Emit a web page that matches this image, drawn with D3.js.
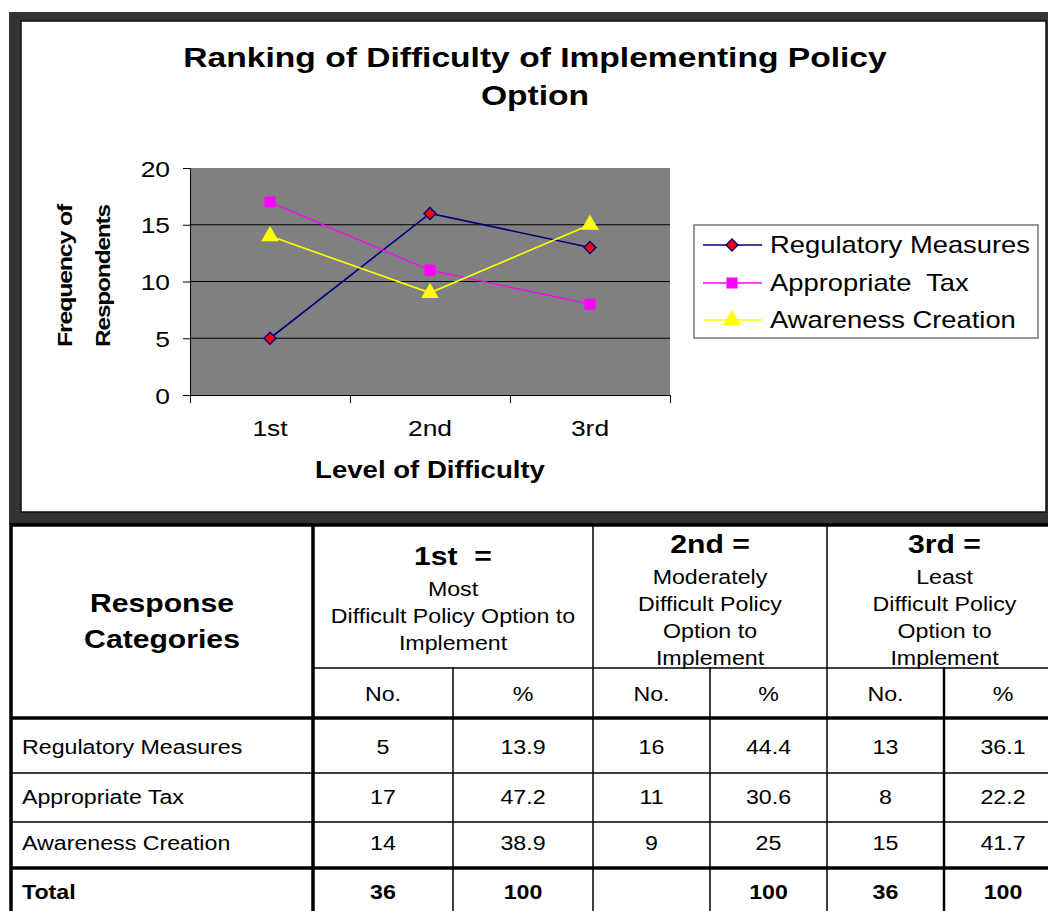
<!DOCTYPE html>
<html>
<head>
<meta charset="utf-8">
<script src="https://cdn.jsdelivr.net/npm/d3@7"></script>
<style>
  body { margin: 0; background: #fff; }
  svg { display: block; font-family: "Liberation Sans", Arial, sans-serif; }
  text { white-space: pre; }
</style>
</head>
<body>
<svg width="1048" height="911"></svg>
<script>
// chart values
const levels = ["1st", "2nd", "3rd"];
const seriesNames = ["Regulatory Measures", "Appropriate  Tax", "Awareness Creation"];
const regulatory = [5, 16, 13];
const tax = [17, 11, 8];
const awareness = [14, 9, 15];
const yTicks = [0, 5, 10, 15, 20];

// table values
const rowNames = ["Regulatory Measures", "Appropriate Tax", "Awareness Creation"];
const regulatoryPct = [13.9, 44.4, 36.1];
const taxPct = [47.2, 30.6, 22.2];
const awarenessPct = [38.9, 25, 41.7];
const totalNo = [36, "", 36];
const totalPct = [100, 100, 100];
const headTitles = ["1st  =", "2nd =", "3rd ="];
const headLines = [
  ["Most", "Difficult Policy Option to", "Implement"],
  ["Moderately", "Difficult Policy", "Option to", "Implement"],
  ["Least", "Difficult Policy", "Option to", "Implement"]
];

const svg = d3.select("svg");

// text with a horizontal stretch about its anchor point
function label(g, str, x, y, size, opts) {
  opts = opts || {};
  return g.append("text")
    .attr("transform", `translate(${x},${y}) scale(${opts.sx || 1},1)`)
    .attr("text-anchor", opts.anchor || "middle")
    .style("font-size", size + "px")
    .style("font-weight", opts.bold ? "bold" : "normal")
    .attr("fill", "#000")
    .text(str);
}

// ---- chart frame ----
svg.append("rect").attr("x", 9).attr("y", 12).attr("width", 1100).attr("height", 512).attr("fill", "#333");
svg.append("rect").attr("x", 21).attr("y", 21).attr("width", 1025).attr("height", 491)
  .attr("fill", "#fff").attr("stroke", "#111").attr("stroke-width", 1.5);

const chart = svg.append("g");
const SX = 1.2;

label(chart, "Ranking of Difficulty of Implementing Policy", 535, 67, 28, {bold: true, sx: SX});
label(chart, "Option", 535, 105, 28, {bold: true, sx: SX});

const plot = {left: 190, right: 670, top: 168, bottom: 395};

const x = d3.scaleBand().domain(levels).range([plot.left, plot.right]).padding(0);
const xEdge = d3.scaleLinear().domain([0, levels.length]).range([plot.left, plot.right]);
const y = d3.scaleLinear().domain([0, 20]).range([plot.bottom, plot.top]);

chart.append("rect")
  .attr("x", plot.left).attr("y", plot.top)
  .attr("width", plot.right - plot.left).attr("height", plot.bottom - plot.top)
  .attr("fill", "#808080");

chart.selectAll(".grid")
  .data(yTicks.filter(d => d > 0 && d < 20))
  .enter().append("line")
  .attr("x1", plot.left).attr("x2", plot.right)
  .attr("y1", d => y(d)).attr("y2", d => y(d))
  .attr("stroke", "#000").attr("stroke-width", 1);

// y axis
const yAxis = chart.append("g")
  .attr("transform", `translate(${plot.left},0)`)
  .call(d3.axisLeft(y).tickValues(yTicks).tickSize(7).tickPadding(0));
yAxis.select(".domain").attr("stroke", "#000");
yAxis.selectAll("text")
  .attr("x", null).attr("dy", null)
  .attr("transform", "translate(-20,8) scale(1.2,1)")
  .style("font-size", "22px").attr("fill", "#000")
  .style("font-family", "'Liberation Sans', Arial, sans-serif");

// x axis: boundary ticks + centred labels
const xTicks = chart.append("g")
  .attr("transform", `translate(0,${plot.bottom})`)
  .call(d3.axisBottom(xEdge).ticks(levels.length).tickSize(8).tickFormat(""));
xTicks.select(".domain").attr("stroke", "#000").attr("d", `M${plot.left - 7},0.5H${plot.right}`);

const xLabels = chart.append("g")
  .attr("transform", `translate(0,${plot.bottom})`)
  .call(d3.axisBottom(x).tickSize(0));
xLabels.select(".domain").remove();
xLabels.selectAll("text")
  .attr("y", null).attr("dy", null)
  .attr("transform", "translate(0,41) scale(1.2,1)")
  .style("font-size", "22px").attr("fill", "#000")
  .style("font-family", "'Liberation Sans', Arial, sans-serif");

label(chart, "Level of Difficulty", 430, 478, 23, {bold: true, sx: SX});

// y title, two rotated lines
[["Frequency of", 72], ["Respondents", 110]].forEach(([t, bx]) => {
  chart.append("text")
    .attr("transform", `translate(${bx},276) rotate(-90)`)
    .attr("text-anchor", "middle")
    .attr("textLength", 142)
    .attr("lengthAdjust", "spacingAndGlyphs")
    .style("font-size", "21px").style("font-weight", "bold")
    .style("letter-spacing", "-1px")
    .text(t);
});

// series
const series = [
  {name: seriesNames[0], values: regulatory, line: "#000080", fill: "#ff0000", stroke: "#000080",
   sym: d3.symbolSquare, size: 72, rot: 45, width: 1.6},
  {name: seriesNames[1], values: tax, line: "#ff00ff", fill: "#ff00ff", stroke: "#ff00ff",
   sym: d3.symbolSquare, size: 95, rot: 0, width: 1.3},
  {name: seriesNames[2], values: awareness, line: "#ffff00", fill: "#ffff00", stroke: "#ffff00",
   sym: d3.symbolTriangle, size: 100, rot: 0, width: 1.6}
];

const line = d3.line()
  .x((d, i) => x(levels[i]) + x.bandwidth() / 2)
  .y(d => y(d));

series.forEach(s => {
  chart.append("path")
    .attr("d", line(s.values))
    .attr("fill", "none")
    .attr("stroke", s.line)
    .attr("stroke-width", s.width);
  chart.selectAll(null)
    .data(s.values)
    .enter().append("path")
    .attr("d", d3.symbol().type(s.sym).size(s.size))
    .attr("transform", (d, i) =>
      `translate(${x(levels[i]) + x.bandwidth() / 2},${y(d)}) rotate(${s.rot})`)
    .attr("fill", s.fill)
    .attr("stroke", s.stroke)
    .attr("stroke-width", 1.4);
});

// legend
const legend = chart.append("g");
legend.append("rect")
  .attr("x", 694).attr("y", 225).attr("width", 344).attr("height", 113)
  .attr("fill", "#fff").attr("stroke", "#555").attr("stroke-width", 1.2);
const legendY = [245, 283, 320];
series.forEach((s, i) => {
  const ly = legendY[i];
  legend.append("line")
    .attr("x1", 703).attr("x2", 762).attr("y1", ly).attr("y2", ly)
    .attr("stroke", s.line).attr("stroke-width", s.width);
  legend.append("path")
    .attr("d", d3.symbol().type(s.sym).size(s.size))
    .attr("transform", `translate(732,${ly}) rotate(${s.rot})`)
    .attr("fill", s.fill).attr("stroke", s.stroke).attr("stroke-width", 1.4);
  label(legend, s.name, 770, ly + 8, 23, {anchor: "start", sx: 1.19});
});

// ---- table ----
const table = svg.append("g");
const colX = [11, 313, 453, 593, 710, 827, 944, 1062];
const rowY = [525, 668, 718, 773, 822, 868, 916];
const TS = 1.16;

table.append("rect").attr("x", 11).attr("y", 524).attr("width", 1060).attr("height", 400).attr("fill", "#fff");

const hLines = [
  {y: rowY[0], x1: colX[0], w: 3.5},
  {y: rowY[1], x1: colX[1], w: 1.5},
  {y: rowY[2], x1: colX[0], w: 3.5},
  {y: rowY[3], x1: colX[0], w: 1.5},
  {y: rowY[4], x1: colX[0], w: 1.5},
  {y: rowY[5], x1: colX[0], w: 3.5}
];
table.selectAll(".h").data(hLines).enter().append("line")
  .attr("x1", d => d.x1 - 1).attr("x2", 1070)
  .attr("y1", d => d.y).attr("y2", d => d.y)
  .attr("stroke", "#000").attr("stroke-width", d => d.w);

const vLines = [
  {x: colX[0], y1: rowY[0], w: 3.5},
  {x: colX[1], y1: rowY[0], w: 3.5},
  {x: colX[2], y1: rowY[1], w: 1.5},
  {x: colX[3], y1: rowY[0], w: 1.5},
  {x: colX[4], y1: rowY[1], w: 1.5},
  {x: colX[5], y1: rowY[0], w: 1.5},
  {x: colX[6], y1: rowY[1], w: 2.5}
];
table.selectAll(".v").data(vLines).enter().append("line")
  .attr("x1", d => d.x).attr("x2", d => d.x)
  .attr("y1", d => d.y1 - 1).attr("y2", 920)
  .attr("stroke", "#000").attr("stroke-width", d => d.w);

// header
const firstMid = (colX[0] + colX[1]) / 2;
label(table, "Response", firstMid, 612, 26, {bold: true, sx: TS});
label(table, "Categories", firstMid, 648, 26, {bold: true, sx: TS});

headTitles.forEach((t, g) => {
  const cx = (colX[1 + 2 * g] + colX[3 + 2 * g]) / 2;
  const lines = headLines[g];
  const top = lines.length === 3 ? 565 : 553;
  label(table, t, cx, top, 26, {bold: true, sx: TS});
  lines.forEach((ln, k) => label(table, ln, cx, top + 31 + 27 * k, 20, {sx: TS}));
  label(table, "No.", (colX[1 + 2 * g] + colX[2 + 2 * g]) / 2, 701, 20, {sx: TS});
  label(table, "%", (colX[2 + 2 * g] + colX[3 + 2 * g]) / 2, 701, 20, {sx: TS});
});

// body rows
const counts = [regulatory, tax, awareness];
const pcts = [regulatoryPct, taxPct, awarenessPct];
const bodyBase = [754, 804, 850];
rowNames.forEach((name, r) => {
  label(table, name, 22, bodyBase[r], 20, {anchor: "start", sx: TS});
  levels.forEach((lv, g) => {
    label(table, counts[r][g], (colX[1 + 2 * g] + colX[2 + 2 * g]) / 2, bodyBase[r], 20, {sx: TS});
    label(table, pcts[r][g], (colX[2 + 2 * g] + colX[3 + 2 * g]) / 2, bodyBase[r], 20, {sx: TS});
  });
});

label(table, "Total", 22, 899, 20, {anchor: "start", bold: true, sx: TS});
levels.forEach((lv, g) => {
  label(table, totalNo[g], (colX[1 + 2 * g] + colX[2 + 2 * g]) / 2, 899, 20, {bold: true, sx: TS});
  label(table, totalPct[g], (colX[2 + 2 * g] + colX[3 + 2 * g]) / 2, 899, 20, {bold: true, sx: TS});
});
</script>
</body>
</html>
